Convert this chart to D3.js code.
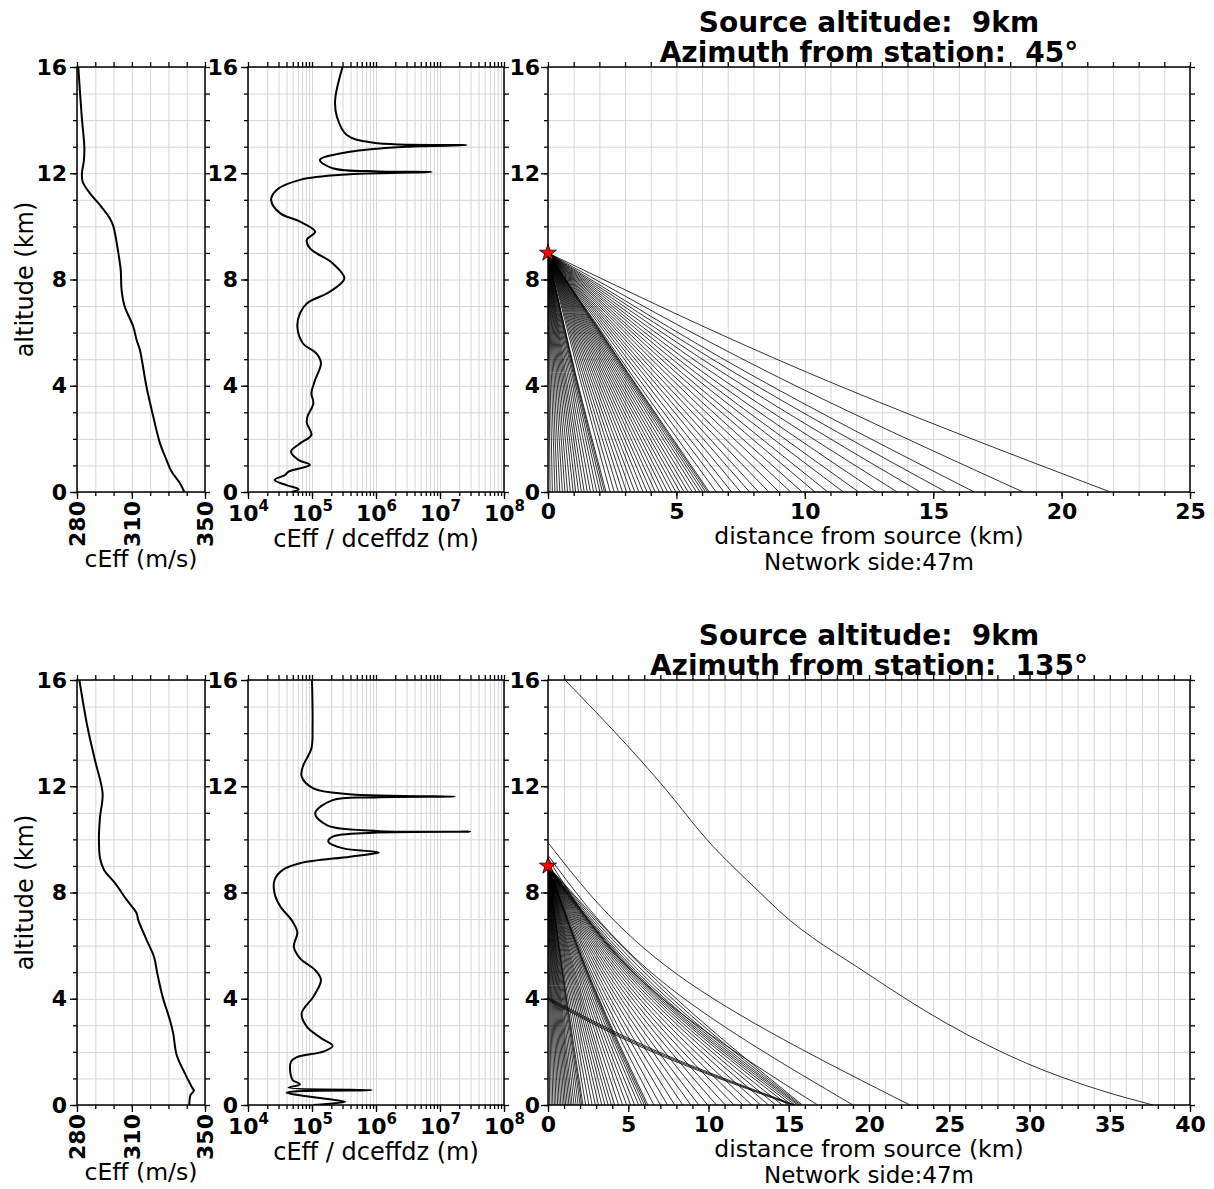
<!DOCTYPE html>
<html><head><meta charset="utf-8">
<script src="https://cdn.jsdelivr.net/npm/d3@7"></script>
<style>body{margin:0;background:#fff}svg{display:block;font-family:"DejaVu Sans",sans-serif}.pre{white-space:pre}</style>
</head><body><svg id="c" width="1214" height="1189"></svg>
<script>
// ---------------- data ----------------
const altTicks = [0, 4, 8, 12, 16];
const cEffTicks = [280, 310, 350];
const logTicks = [1e4, 1e5, 1e6, 1e7, 1e8];
const logExp = ["4", "5", "6", "7", "8"];
const distTicksTop = [0, 5, 10, 15, 20, 25];
const distTicksBottom = [0, 5, 10, 15, 20, 25, 30, 35, 40];
const sourceAlt = 9;
const titles = [["Source altitude:  9km", "Azimuth from station:  45°"],
                ["Source altitude:  9km", "Azimuth from station:  135°"]];
const networkLabel = "Network side:47m";

// effective sound speed profiles (altitude km, m/s)
const cTopAlt = [16, 14.13, 13.0, 12.5, 12.0, 11.68, 11.24, 10.8, 10.3, 10.0, 9.0, 8.36, 7.6, 7.0, 6.22, 5.72, 5.35, 3.96, 2.84, 1.83, 1.2, 0.77, 0.33, 0];
const cTopVal = [280.7, 282.6, 284.0, 283.8, 282.7, 283.1, 287.1, 292.6, 298.0, 299.9, 302.6, 303.9, 304.4, 306.0, 310.8, 312.6, 314.4, 318.0, 321.7, 325.4, 329.0, 331.7, 336.3, 338.7];
const cBotAlt = [16, 14.24, 12.99, 11.73, 10.85, 10.1, 9.29, 8.85, 8.35, 7.72, 7.22, 6.96, 6.21, 5.58, 4.96, 4.08, 3.2, 2.7, 1.88, 1.19, 0.69, 0.54, 0.38, 0];
const cBotVal = [281.3, 285.7, 289.8, 294.0, 292.6, 292.0, 292.6, 294.8, 300.8, 307.2, 312.6, 313.5, 318.1, 322.1, 323.9, 326.8, 330.8, 332.6, 334.5, 339.0, 342.7, 343.9, 342.1, 341.4];

// cEff / dceffdz profiles (altitude km, m)
const rTopAlt = [16, 14.76, 14.13, 13.44, 13.15, 13.06, 13.0, 12.81, 12.5, 12.19, 12.07, 12.05, 11.96, 11.75, 11.37, 10.99, 10.49, 10.18, 9.8, 9.49, 9.17, 8.61, 8.04, 7.54, 7.1, 6.73, 6.22, 5.6, 5.22, 4.85, 4.22, 3.72, 3.34, 2.84, 2.59, 2.15, 1.83, 1.52, 1.2, 1.02, 0.77, 0.64, 0.45, 0.26, 0.1, 0];
const rTopVal = [3.0e5, 2.3e5, 2.45e5, 3.5e5, 9.1e5, 2.6e7, 3.0e6, 3.9e5, 1.33e5, 2.1e5, 1.15e6, 7.4e6, 3.9e5, 6.5e4, 2.8e4, 2.3e4, 3.2e4, 6.5e4, 1.12e5, 8.3e4, 9.3e4, 2.1e5, 3.2e5, 1.9e5, 8.3e4, 6.5e4, 5.9e4, 7.2e4, 1.17e5, 1.38e5, 1.12e5, 9.8e4, 1.05e5, 8.5e4, 8.3e4, 9.8e4, 6.5e4, 4.7e4, 6.2e4, 9.3e4, 4.3e4, 3.8e4, 2.6e4, 4.0e4, 6.2e4, 4.8e4];
const rBotAlt = [16, 14.24, 13.43, 12.74, 12.36, 11.92, 11.7, 11.61, 11.58, 11.48, 10.98, 10.54, 10.32, 10.29, 10.25, 10.1, 9.91, 9.66, 9.51, 9.35, 9.1, 8.85, 8.47, 7.97, 7.47, 6.96, 6.5, 5.96, 5.52, 5.08, 4.71, 4.08, 3.45, 2.95, 2.51, 2.22, 2.01, 1.8, 1.63, 1.19, 0.94, 0.78, 0.65, 0.56, 0.52, 0.46, 0.31, 0.12, 0.04, 0];
const rBotVal = [1.0e5, 1.02e5, 9.8e4, 7.2e4, 6.9e4, 1.05e5, 3.9e5, 1.7e7, 1.0e6, 2.1e5, 1.12e5, 1.7e5, 1.0e6, 2.95e7, 9.1e5, 2.1e5, 1.8e5, 3.1e5, 1.1e6, 3.9e5, 6.5e4, 3.5e4, 2.6e4, 2.6e4, 3.2e4, 4.8e4, 5.9e4, 5.2e4, 6.5e4, 1.12e5, 1.38e5, 1.05e5, 6.9e4, 8.3e4, 1.4e5, 2.1e5, 1.5e5, 5.8e4, 4.7e4, 4.6e4, 5.0e4, 6.5e4, 4.3e4, 8.5e5, 5.8e4, 4.0e4, 9.3e4, 3.3e5, 1.7e5, 1.05e5];

// rays, azimuth 45°: ground distance (km) and distance at half source altitude (km)
const topRayEnd = [0.08,0.17,0.27,0.36,0.46,0.56,0.66,0.76,0.87,0.98,1.08,1.19,1.30,1.41,1.53,1.65,1.78,1.90,2.02,2.12,2.20,2.26,
  2.42,2.58,2.74,2.90,3.06,3.22,3.38,3.54,3.70,3.86,4.02,4.18,4.34,4.50,4.66,4.82,4.98,5.14,5.30,5.46,5.62,5.78,5.92,6.04,6.14,6.22,6.28,
  6.55,6.85,7.15,7.5,7.85,8.2,8.6,9.0,9.45,9.9,10.4,10.9,11.5,12.1,12.8,13.6,14.5,15.5,16.6,18.5,21.9];
const topRayMid = [0.04,0.08,0.13,0.18,0.23,0.28,0.33,0.38,0.43,0.48,0.53,0.58,0.63,0.68,0.74,0.80,0.86,0.92,0.97,1.01,1.04,1.06,
  1.18,1.26,1.34,1.42,1.50,1.58,1.66,1.74,1.82,1.90,1.98,2.06,2.14,2.22,2.30,2.38,2.46,2.54,2.62,2.70,2.78,2.86,2.93,2.99,3.04,3.08,3.11,
  3.2,3.35,3.5,3.66,3.82,3.98,4.16,4.34,4.55,4.75,4.98,5.2,5.47,5.74,6.05,6.4,6.8,7.25,7.75,8.6,10.1];

// rays, azimuth 135°: start altitude at x=0, distance at half start altitude, ground distance
const botRayStart = [9,9,9,9,9,9,9,9,9,9,9,9,9,9,9,9,9,9,9,9,9,
  9,9,9,9,9,9,9,9,9,9,9,9,9,9,9,9,9,9,9,9,
  9,9,9,9,9,9,9,9,9,9,9,9,9,9,9,9,9,9,9,9,9,9,9,9,
  9.3, 9.4, 9.88, 3.95, 4.0, 4.05];
const botRayMid = [0.05,0.1,0.15,0.2,0.25,0.3,0.35,0.4,0.45,0.5,0.55,0.6,0.65,0.7,0.75,0.81,0.87,0.93,0.98,1.02,1.05,
  1.12,1.21,1.3,1.39,1.48,1.57,1.66,1.75,1.84,1.93,2.04,2.15,2.26,2.37,2.48,2.59,2.68,2.74,2.79,2.83,
  2.95,3.1,3.28,3.45,3.64,3.83,4.02,4.22,4.42,4.62,4.82,5.02,5.22,5.42,5.6,5.76,5.9,6.03,6.14,6.25,6.4,6.6,6.85,7.1,
  5.9, 7.0, 8.0, 6.6, 6.7, 6.8];
const botRayEnd = [0.1,0.2,0.3,0.4,0.5,0.6,0.7,0.8,0.9,1.0,1.1,1.2,1.3,1.4,1.5,1.62,1.75,1.88,2.0,2.1,2.18,
  2.35,2.55,2.75,2.95,3.15,3.35,3.55,3.75,3.95,4.15,4.4,4.65,4.9,5.15,5.4,5.65,5.85,6.0,6.12,6.22,
  6.6,7.0,7.45,7.9,8.4,8.9,9.4,9.95,10.5,11.05,11.6,12.15,12.7,13.25,13.75,14.2,14.6,14.95,15.2,15.4,15.55,15.65,15.75,15.85,
  16.8, 19.0, 22.55, 15.2, 15.3, 15.4];
// the ray entering from the top of the 135° panel
const highRayX = [1.06, 7.18, 9.89, 13.2, 14.45, 19.86, 24.84, 29.82, 34.4, 37.7];
const highRayAlt = [16, 12, 10, 8, 7.28, 4.96, 3.07, 1.57, 0.56, 0];

// ---------------- drawing ----------------
const svg = d3.select('#c');
const GRID = '#d6d6d6';
const FONT = '"DejaVu Sans", sans-serif';
const P1 = [77, 205], P2 = [248, 504], P3 = [548, 1190];
const rows = [{y0: 492, y16: 67}, {y0: 1105, y16: 680}];

function styleTicks(sel) {
  sel.select('.domain').remove();
  sel.selectAll('line').attr('stroke', '#000').attr('stroke-width', 1.3);
  sel.attr('font-family', FONT);
}
function grid(g, x, y, xg, yg) {
  const [x0, x1] = x.range(), [yb, yt] = y.range();
  g.append('g').attr('transform', `translate(0,${yb})`)
    .call(d3.axisBottom(x).tickValues(xg).tickSize(-(yb - yt)).tickFormat(''))
    .call(s => { s.select('.domain').remove(); s.selectAll('line').attr('stroke', GRID).attr('stroke-width', 1); });
  g.append('g').attr('transform', `translate(${x0},0)`)
    .call(d3.axisLeft(y).tickValues(yg).tickSize(-(x1 - x0)).tickFormat(''))
    .call(s => { s.select('.domain').remove(); s.selectAll('line').attr('stroke', GRID).attr('stroke-width', 1); });
}
function frame(g, x, y, o) {
  const [x0, x1] = x.range(), [yb, yt] = y.range();
  const minorAlt = d3.range(0, 17, 1);
  g.append('g').attr('transform', `translate(${x0},0)`).call(d3.axisLeft(y).tickValues(minorAlt).tickSize(4).tickFormat('')).call(styleTicks);
  g.append('g').attr('transform', `translate(${x0},0)`)
    .call(d3.axisLeft(y).tickValues(altTicks).tickSize(7).tickPadding(o.pad).tickFormat(d3.format('d')))
    .call(styleTicks)
    .call(s => s.selectAll('text').attr('font-size', 22).attr('font-weight', 'bold').attr('fill', '#000'));
  g.append('g').attr('transform', `translate(${x1},0)`).call(d3.axisRight(y).tickValues(minorAlt).tickSize(5).tickFormat('')).call(styleTicks);
  g.append('g').attr('transform', `translate(0,${yt})`).call(d3.axisTop(x).tickValues(o.topTicks).tickSize(5).tickFormat('')).call(styleTicks);
  g.append('g').attr('transform', `translate(0,${yb})`).call(d3.axisBottom(x).tickValues(o.topTicks).tickSize(4).tickFormat('')).call(styleTicks);
  g.append('rect').attr('x', x0).attr('y', yt).attr('width', x1 - x0).attr('height', yb - yt)
    .attr('fill', 'none').attr('stroke', '#000').attr('stroke-width', 1.5);
}
function clipFor(id, x, y) {
  const [x0, x1] = x.range(), [yb, yt] = y.range();
  svg.append('clipPath').attr('id', id).append('rect').attr('x', x0).attr('y', yt).attr('width', x1 - x0).attr('height', yb - yt);
  return `url(#${id})`;
}

const profiles = [[cTopAlt, cTopVal, rTopAlt, rTopVal], [cBotAlt, cBotVal, rBotAlt, rBotVal]];

rows.forEach((r, ri) => {
  const y = d3.scaleLinear([0, 16], [r.y0, r.y16]);
  const g = svg.append('g');
  const [cAlt, cVal, rAlt, rVal] = profiles[ri];

  // ---- panel 1 : cEff
  const x1s = d3.scaleLinear([280, 350], [P1[0], P1[1]]);
  grid(g, x1s, y, d3.range(280, 351, 10), d3.range(0, 17, 1));
  g.append('path').datum(cAlt.map((a, i) => [cVal[i], a]))
    .attr('clip-path', clipFor('c1' + ri, x1s, y))
    .attr('d', d3.line().x(d => x1s(d[0])).y(d => y(d[1])).curve(d3.curveCatmullRom.alpha(0.5)))
    .attr('fill', 'none').attr('stroke', '#000').attr('stroke-width', 2);
  frame(g, x1s, y, {topTicks: d3.range(280, 351, 10), pad: 3});
  g.append('g').attr('transform', `translate(0,${r.y0})`)
    .call(d3.axisBottom(x1s).tickValues(cEffTicks).tickSize(7).tickFormat(d3.format('d')))
    .call(styleTicks)
    .call(s => s.selectAll('text').attr('font-size', 22).attr('font-weight', 'bold').attr('fill', '#000')
      .attr('transform', 'rotate(-90)').attr('text-anchor', 'end').attr('x', -9).attr('y', 0).attr('dy', '0.36em'));
  g.append('text').attr('x', 141).attr('y', r.y0 + 75).attr('text-anchor', 'middle')
    .attr('font-size', 23.5).text('cEff (m/s)');
  g.append('text').attr('transform', `translate(33,${(r.y0 + r.y16) / 2}) rotate(-90)`).attr('text-anchor', 'middle')
    .attr('font-size', 24).text('altitude (km)');

  // ---- panel 2 : cEff / dceffdz (log)
  const x2s = d3.scaleLog([1e4, 1e8], [P2[0], P2[1]]);
  const logGrid = [];
  [1e4, 1e5, 1e6, 1e7].forEach(dec => { for (let k = 1; k < 10; k++) logGrid.push(dec * k); });
  logGrid.push(1e8);
  grid(g, x2s, y, logGrid, d3.range(0, 17, 1));
  g.append('path').datum(rAlt.map((a, i) => [rVal[i], a]))
    .attr('clip-path', clipFor('c2' + ri, x2s, y))
    .attr('d', d3.line().x(d => x2s(d[0])).y(d => y(d[1])).curve(d3.curveCatmullRom.alpha(0.5)))
    .attr('fill', 'none').attr('stroke', '#000').attr('stroke-width', 2);
  frame(g, x2s, y, {topTicks: logGrid, pad: 3});
  g.append('g').attr('transform', `translate(0,${r.y0})`)
    .call(d3.axisBottom(x2s).tickValues(logTicks).tickSize(7).tickFormat(''))
    .call(styleTicks)
    .call(s => s.selectAll('.tick').each(function (d, i) {
      const t = d3.select(this).append('text').attr('y', 29).attr('text-anchor', 'middle')
        .attr('font-size', 22).attr('font-weight', 'bold').attr('fill', '#000');
      t.append('tspan').text('10');
      t.append('tspan').attr('dy', -10).attr('font-size', 15).text(logExp[i]);
    }));
  g.append('text').attr('x', 376).attr('y', r.y0 + 55).attr('text-anchor', 'middle')
    .attr('font-size', 24).text('cEff / dceffdz (m)');

  // ---- panel 3 : rays
  const xmax = ri === 0 ? 25 : 40;
  const x3s = d3.scaleLinear([0, xmax], [P3[0], P3[1]]);
  grid(g, x3s, y, d3.range(0, xmax + 1, 1), d3.range(0, 17, 1));
  const rayG = g.append('g').attr('clip-path', clipFor('c3' + ri, x3s, y));
  const rayLine = d3.line().x(d => x3s(d[0])).y(d => y(d[1])).curve(d3.curveNatural);
  let rays;
  if (ri === 0) {
    rays = topRayEnd.map((e, i) => [[0, sourceAlt], [topRayMid[i], sourceAlt / 2], [e, 0]]);
  } else {
    rays = botRayEnd.map((e, i) => [[0, botRayStart[i]], [botRayMid[i], botRayStart[i] / 2], [e, 0]]);
  }
  rayG.selectAll('path.ray').data(rays).join('path').attr('class', 'ray')
    .attr('d', rayLine).attr('fill', 'none').attr('stroke', '#000').attr('stroke-width', 0.8);
  if (ri === 1) {
    rayG.append('path').datum(highRayX.map((v, i) => [v, highRayAlt[i]]))
      .attr('d', d3.line().x(d => x3s(d[0])).y(d => y(d[1])).curve(d3.curveMonotoneX))
      .attr('fill', 'none').attr('stroke', '#000').attr('stroke-width', 0.8);
  }
  frame(g, x3s, y, {topTicks: d3.range(0, xmax + 1, 1), pad: 1});
  g.append('g').attr('transform', `translate(0,${r.y0})`)
    .call(d3.axisBottom(x3s).tickValues(ri === 0 ? distTicksTop : distTicksBottom).tickSize(7).tickPadding(4).tickFormat(d3.format('d')))
    .call(styleTicks)
    .call(s => s.selectAll('text').attr('font-size', 22).attr('font-weight', 'bold').attr('fill', '#000'));
  g.append('path').attr('transform', `translate(${x3s(0)},${y(sourceAlt)})`)
    .attr('d', d3.symbol(d3.symbolStar, 90)()).attr('fill', '#ff0000').attr('stroke', '#000').attr('stroke-width', 0.8);
  const cx = (P3[0] + P3[1]) / 2;
  g.append('text').attr('x', cx).attr('y', r.y0 + 52).attr('text-anchor', 'middle').attr('font-size', 23.5).text('distance from source (km)');
  g.append('text').attr('x', cx).attr('y', r.y0 + 78).attr('text-anchor', 'middle').attr('font-size', 23).text(networkLabel);
  g.append('text').attr('class', 'pre').attr('x', cx).attr('y', r.y16 - 35).attr('text-anchor', 'middle').attr('font-size', 28).attr('font-weight', 'bold').text(titles[ri][0]);
  g.append('text').attr('class', 'pre').attr('x', cx).attr('y', r.y16 - 5).attr('text-anchor', 'middle').attr('font-size', 28).attr('font-weight', 'bold').text(titles[ri][1]);
});
</script></body></html>
